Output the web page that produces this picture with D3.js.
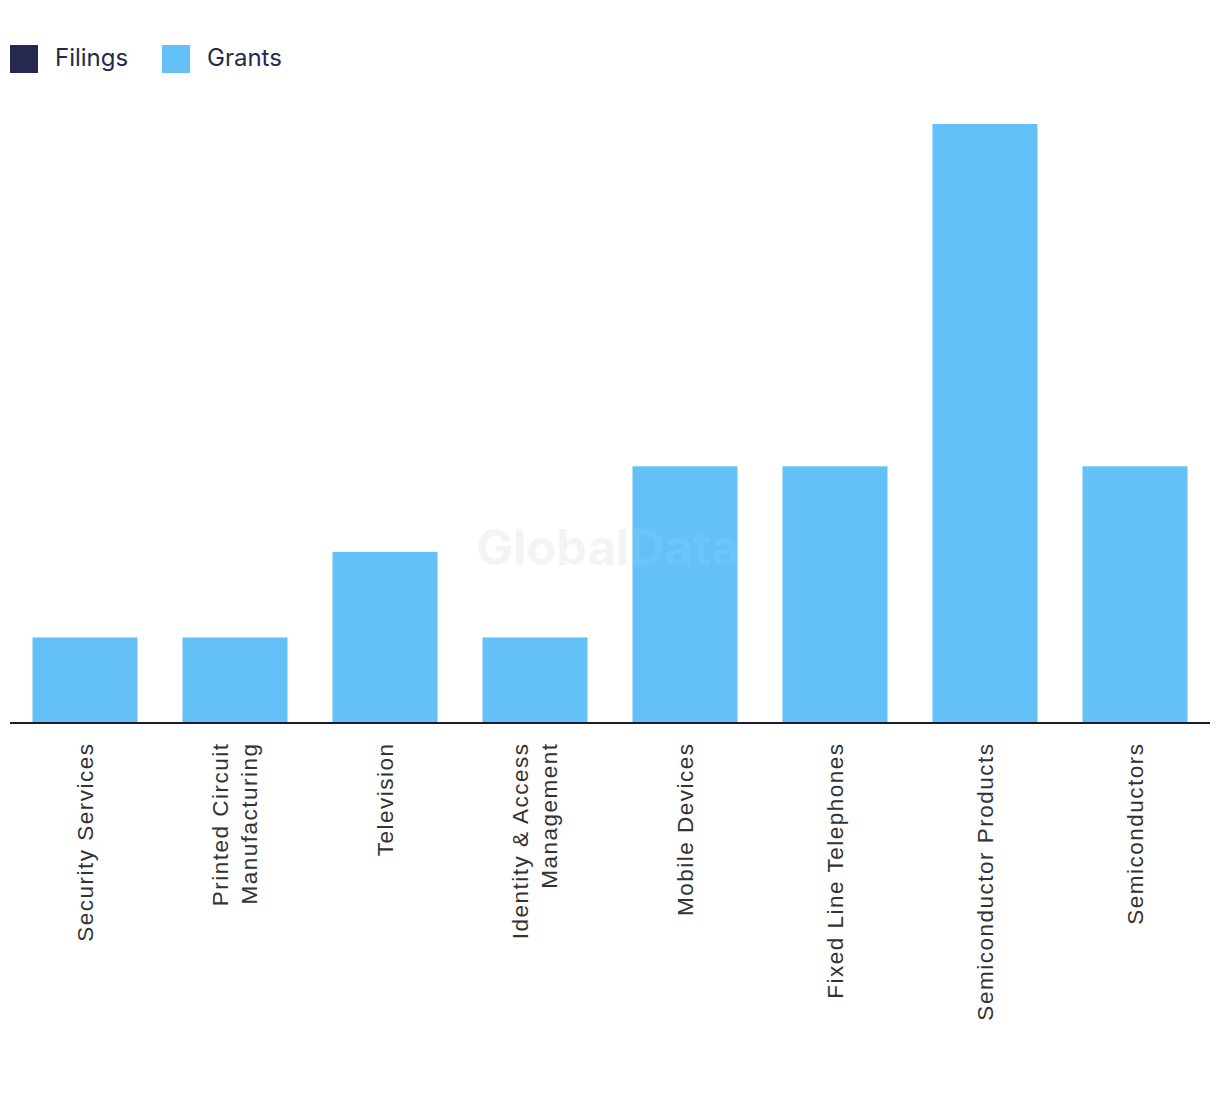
<!DOCTYPE html>
<html>
<head>
<meta charset="utf-8">
<script src="https://cdn.jsdelivr.net/npm/d3@7"></script>
<style>
  html, body { margin: 0; padding: 0; background: #fff; }
  svg { display: block; }
</style>
</head>
<body>
<svg id="chart" width="1220" height="1094"></svg>
<script>
const categories = [
  "Security Services",
  "Printed Circuit Manufacturing",
  "Television",
  "Identity & Access Management",
  "Mobile Devices",
  "Fixed Line Telephones",
  "Semiconductor Products",
  "Semiconductors"
];
const labelLines = [
  ["Security Services"],
  ["Printed Circuit", "Manufacturing"],
  ["Television"],
  ["Identity & Access", "Management"],
  ["Mobile Devices"],
  ["Fixed Line Telephones"],
  ["Semiconductor Products"],
  ["Semiconductors"]
];
const filings = [0, 0, 0, 0, 0, 0, 0, 0];
const grants = [1, 1, 2, 1, 3, 3, 7, 3];
const seriesNames = ["Filings", "Grants"];
const seriesColors = ["#26284f", "#63c1f8"];

const svg = d3.select("#chart");
const baseY = 723, topY = 124;

const x = d3.scaleBand().domain(categories).range([10, 1210])
  .paddingInner(0.3).paddingOuter(0.15);
const y = d3.scaleLinear().domain([0, 7]).range([baseY, topY]);

// watermark
svg.append("text")
  .attr("x", 608).attr("y", 565)
  .attr("text-anchor", "middle")
  .attr("font-family", "Inter, 'Noto Sans', sans-serif")
  .attr("font-weight", 700)
  .attr("font-size", 49)
  .attr("fill", "#f4f4f4")
  .text("GlobalData");

// bars
const data = categories.map((c, i) => ({ c, f: filings[i], g: grants[i] }));
svg.append("g").selectAll("rect.g").data(data).join("rect")
  .attr("x", d => x(d.c))
  .attr("width", x.bandwidth())
  .attr("y", d => y(d.g))
  .attr("height", d => baseY - y(d.g))
  .attr("fill", seriesColors[1]);
svg.append("g").selectAll("rect.f").data(data).join("rect")
  .attr("x", d => x(d.c))
  .attr("width", x.bandwidth())
  .attr("y", d => y(d.f))
  .attr("height", d => baseY - y(d.f))
  .attr("fill", seriesColors[0]);

// watermark over bars (semi-transparent)
svg.append("text")
  .attr("x", 608).attr("y", 565)
  .attr("text-anchor", "middle")
  .attr("font-family", "Inter, 'Noto Sans', sans-serif")
  .attr("font-weight", 700)
  .attr("font-size", 49)
  .attr("fill", "#ffffff")
  .attr("fill-opacity", 0.06)
  .text("GlobalData");

// axis
const axis = svg.append("g").attr("transform", `translate(0,${baseY})`)
  .call(d3.axisBottom(x).tickSize(0).tickFormat(""));
axis.select(".domain").attr("stroke", "#1b1b2f").attr("stroke-width", 2)
  .attr("d", "M10,0H1210");

// labels
const lg = svg.append("g");
categories.forEach((c, i) => {
  const lines = labelLines[i];
  const cx = x(c) + x.bandwidth() / 2;
  const n = lines.length;
  const t = lg.append("text")
    .attr("transform", `translate(${cx},742.5) rotate(-90)`)
    .attr("text-anchor", "end")
    .attr("font-family", "'Liberation Sans', Arial, sans-serif")
    .attr("font-size", 22.5)
    .attr("letter-spacing", "1.5px")
    .attr("fill", "#333333");
  lines.forEach((l, j) => {
    const off = (j - (n - 1) / 2) * 29;
    t.append("tspan").attr("x", 0).attr("y", off).attr("dy", "0.35em").text(l);
  });
});

// legend
const legendX = [10, 162];
seriesNames.forEach((s, i) => {
  svg.append("rect").attr("x", legendX[i]).attr("y", 45)
    .attr("width", 28).attr("height", 28).attr("fill", seriesColors[i]);
  svg.append("text").attr("x", legendX[i] + 45).attr("y", 58)
    .attr("dy", "0.35em")
    .attr("font-family", "Inter, 'Noto Sans', sans-serif")
    .attr("font-size", 24)
    .attr("fill", "#27284a")
    .text(s);
});
</script>
</body>
</html>
